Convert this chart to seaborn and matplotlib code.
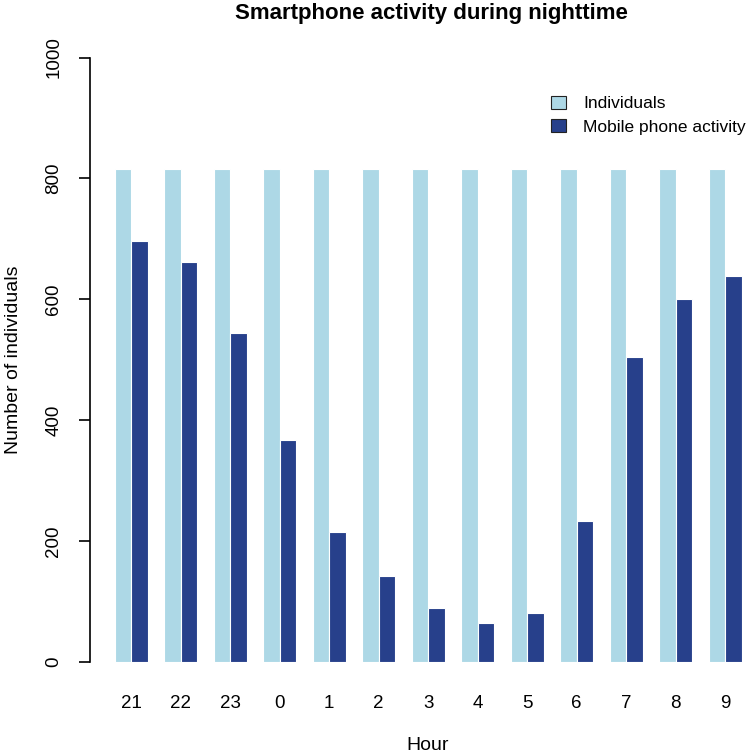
import pandas as pd
import matplotlib
matplotlib.use('Agg')
import matplotlib.pyplot as plt
import seaborn as sns

## Chart data
hours = ['21', '22', '23', '0', '1', '2', '3', '4', '5', '6', '7', '8', '9']
individuals = [815] * 13
mobile_activity = [696, 662, 544, 367, 215, 143, 89, 65, 81, 234, 504, 601, 638]
series_names = ['Individuals', 'Mobile phone activity']
colors = ['#ADD8E6', '#27408B']

df = pd.DataFrame({
    'Hour': hours * 2,
    'Count': individuals + mobile_activity,
    'Series': [series_names[0]] * len(hours) + [series_names[1]] * len(hours),
})

sns.set_style('white')
plt.rcParams['font.family'] = ['Liberation Sans', 'DejaVu Sans']
plt.rcParams['text.color'] = 'black'
plt.rcParams['axes.labelcolor'] = 'black'

W, H = 750, 754
fig = plt.figure(figsize=(W / 100, H / 100), dpi=100)
ax = fig.add_axes([90 / W, (H - 662) / H, 1 - 90 / W, (662 - 57.5) / H])

sns.barplot(data=df, x='Hour', y='Count', hue='Series', order=hours,
            hue_order=series_names, palette=colors, saturation=1,
            width=0.667, edgecolor='white', linewidth=0.8, ax=ax)

ax.set_xlim(-0.832, 12.5)
ax.set_ylim(0, 1000)
ax.set_yticks([0, 200, 400, 600, 800, 1000])

for s in ['top', 'right', 'bottom']:
    ax.spines[s].set_visible(False)
ax.spines['left'].set_linewidth(1.2)
ax.spines['left'].set_color('black')

ax.tick_params(axis='y', left=True, direction='out', length=8, width=1.2,
               pad=12, labelsize=13.5, labelrotation=90, color='black',
               labelcolor='black')
for lab in ax.get_yticklabels():
    lab.set_va('center')
ax.tick_params(axis='x', bottom=False, length=0, pad=24, labelsize=13.5,
               labelcolor='black')

ax.set_xlabel('Hour', fontsize=14, va='center')
ax.xaxis.set_label_coords((428 - 90) / (W - 90), -(745 - 662) / (662 - 57.5))
ax.set_ylabel('Number of individuals', fontsize=14, va='center')
ax.yaxis.set_label_coords(-(90 - 14) / (W - 90), 0.5)

fig.text(431 / W, 1 - 14 / H, 'Smartphone activity during nighttime',
         ha='center', va='center', fontsize=16, fontweight='bold')

## Legend
handles, labels = ax.get_legend_handles_labels()
for h in handles:
    h.set_edgecolor('#222222')
    h.set_linewidth(0.8)
ax.legend(handles, labels, loc='upper left', frameon=False,
          bbox_to_anchor=(551 / W, 1 - 96 / H), bbox_transform=fig.transFigure,
          borderpad=0, borderaxespad=0, handlelength=0.85, handleheight=0.75,
          handletextpad=1.0, labelspacing=0.45, fontsize=12.5)

fig.savefig('out.png', dpi=100)
